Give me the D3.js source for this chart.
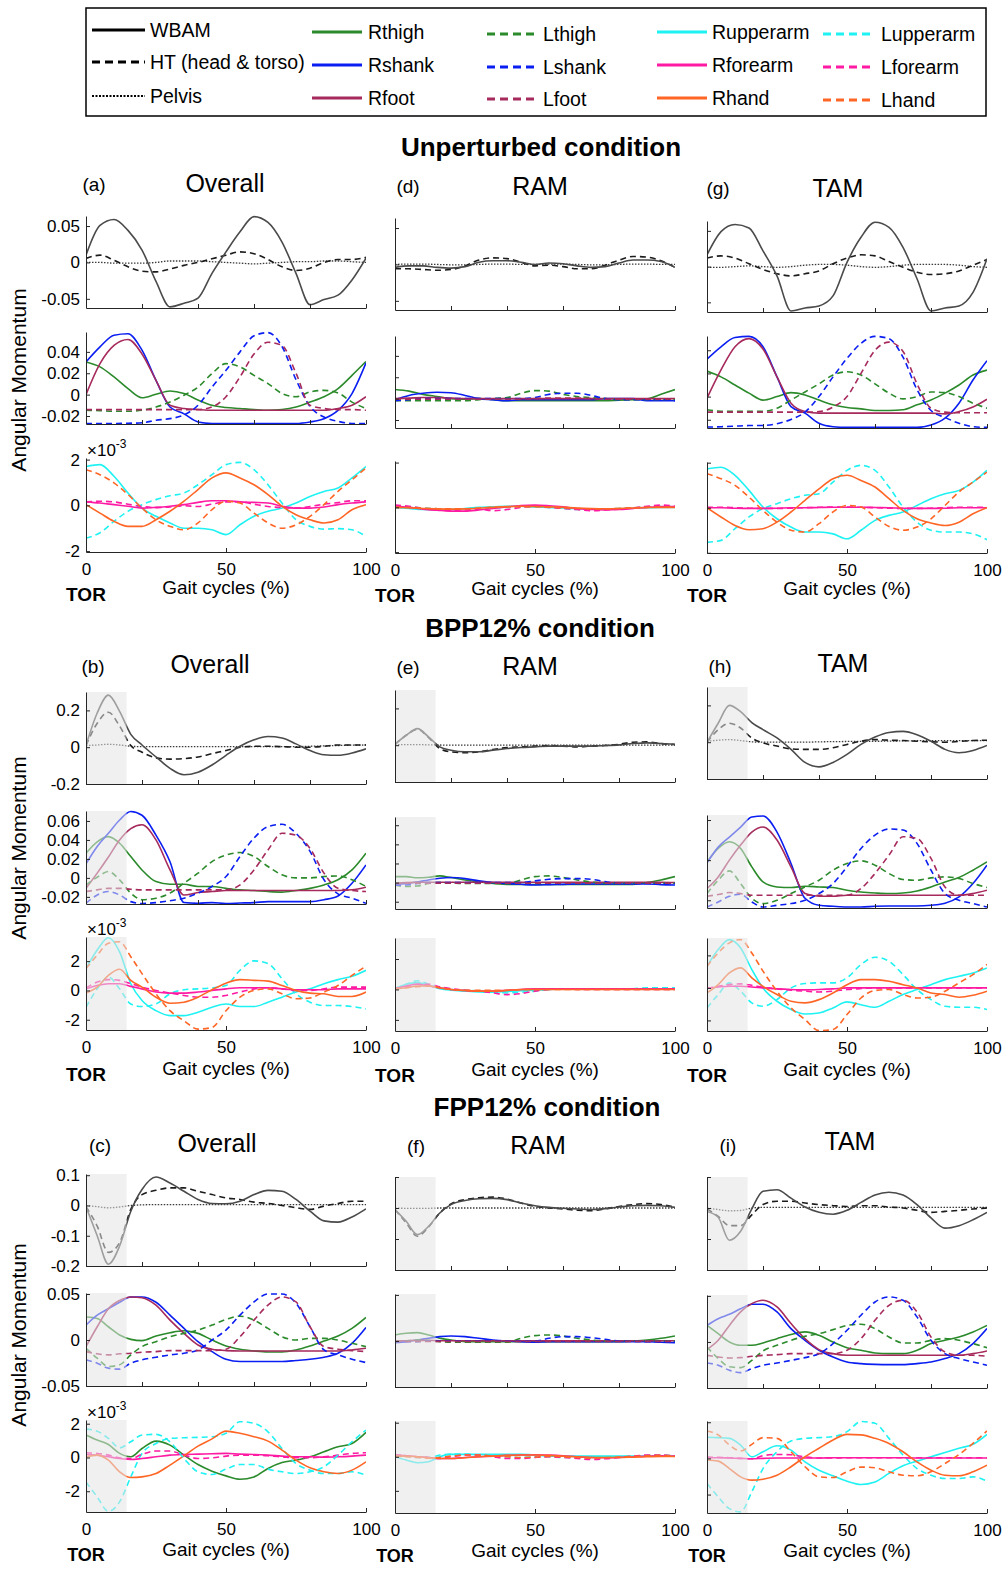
<!DOCTYPE html>
<html>
<head>
<meta charset="utf-8">
<script src="https://cdn.jsdelivr.net/npm/d3@7/dist/d3.min.js"></script>
<style>
  body { margin: 0; background: #fff; }
  svg text { font-family: "Liberation Sans", Arial, Helvetica, sans-serif; fill: #000; }
</style>
</head>
<body>
<div id="chart"></div>
<script>
// gait cycle sample points (%)
const gaitX = [0,5,10,15,20,25,30,35,40,45,50,55,60,65,70,75,80,85,90,95,100];
const gaitXPert = [0,4,8,12,16,20,25,30,35,40,45,50,55,60,65,70,75,80,85,90,95,100];

// ---------- Unperturbed ----------
const aBody = {
  WBAM: [0.010,0.051,0.059,0.044,0.017,-0.026,-0.061,-0.056,-0.049,-0.015,0.0145,0.042,0.063,0.055,0.028,-0.015,-0.058,-0.051,-0.045,-0.024,0.006],
  HT: [0.0055,0.010,0.003,-0.006,-0.012,-0.013,-0.009,-0.004,0.0,0.005,0.010,0.0145,0.012,0.004,-0.006,-0.011,-0.008,0.0,0.004,0.004,0.007],
  Pelvis: [0.0,0.0,-0.001,-0.001,-0.001,0.0,0.002,0.002,0.002,0.001,0.0,-0.001,-0.002,-0.001,0.0,0.001,0.001,0.002,0.002,0.001,0.0]
};
const aLegs = {
  Rthigh: [0.0306,0.026,0.0166,0.0056,-0.003,0.0003,0.0034,0.001,-0.005,-0.010,-0.012,-0.013,-0.014,-0.0147,-0.014,-0.0116,-0.007,-0.002,0.0056,0.018,0.031],
  Lthigh: [-0.0147,-0.015,-0.0156,-0.0156,-0.0147,-0.0116,-0.007,-0.0006,0.007,0.0197,0.029,0.026,0.018,0.0103,0.001,-0.002,0.0025,0.004,0.0016,-0.007,-0.013],
  Rshank: [0.0306,0.0447,0.0556,0.057,0.0416,0.0134,-0.0116,-0.018,-0.0256,-0.027,-0.027,-0.027,-0.027,-0.027,-0.027,-0.027,-0.0256,-0.0225,-0.0147,0.001,0.0297],
  Lshank: [-0.027,-0.027,-0.027,-0.0268,-0.0264,-0.024,-0.0225,-0.019,-0.010,0.007,0.0228,0.040,0.055,0.058,0.045,0.014,-0.011,-0.021,-0.025,-0.027,-0.027],
  Rfoot: [0.0,0.029,0.046,0.0516,0.038,0.0134,-0.010,-0.013,-0.014,-0.0147,-0.0147,-0.0147,-0.0147,-0.0147,-0.0147,-0.0147,-0.0147,-0.0147,-0.013,-0.010,-0.002],
  Lfoot: [-0.014,-0.014,-0.014,-0.014,-0.014,-0.014,-0.014,-0.014,-0.014,-0.0116,-0.002,0.0166,0.038,0.049,0.046,0.020,-0.010,-0.013,-0.014,-0.014,-0.0147]
};
const aArms = {
  Rupperarm: [1.7,1.78,1.27,0.54,-0.12,-0.48,-0.77,-1.0,-1.0,-1.07,-1.28,-0.85,-0.48,-0.26,-0.12,0.1,0.39,0.61,0.76,1.2,1.7],
  Lupperarm: [-1.43,-1.2,-0.7,-0.26,0.03,0.25,0.42,0.54,0.9,1.34,1.78,1.88,1.56,0.9,0.1,-0.63,-0.92,-1.04,-1.02,-1.07,-1.36],
  Rforearm: [0.15,0.1,0.03,-0.04,-0.12,-0.09,-0.04,0.03,0.13,0.2,0.2,0.15,0.13,0.1,-0.04,-0.12,-0.12,-0.07,0.03,0.1,0.15],
  Lforearm: [0.15,0.18,0.15,0.05,-0.05,-0.1,-0.07,-0.02,-0.05,0.05,0.15,0.15,0.05,-0.05,-0.1,-0.12,-0.05,0.05,0.12,0.2,0.2],
  Rhand: [0.03,-0.34,-0.7,-0.92,-0.92,-0.63,-0.26,0.18,0.69,1.2,1.42,1.2,0.9,0.47,-0.04,-0.41,-0.63,-0.77,-0.63,-0.19,0.03],
  Lhand: [1.56,1.34,0.98,0.47,-0.12,-0.63,-0.92,-1.07,-0.77,-0.19,0.18,0.1,-0.34,-0.77,-1.0,-0.85,-0.48,0.03,0.61,1.12,1.63]
};
const dBody = {
  WBAM: [-0.004,-0.002,-0.002,-0.004,-0.005,-0.003,0.003,0.005,0.005,0.003,0.0,0.002,0.001,-0.002,-0.004,-0.003,0.002,0.006,0.006,0.004,-0.004],
  HT: [-0.006,-0.006,-0.007,-0.008,-0.007,-0.002,0.006,0.009,0.008,0.003,-0.002,-0.001,-0.003,-0.006,-0.006,-0.001,0.006,0.011,0.010,0.005,-0.004],
  Pelvis: [0.0,0.0005,0.0005,0.0,-0.0005,-0.0005,0.0,0.0005,0.0005,0.0,0.0,0.0005,0.0005,0.0,-0.0005,-0.0005,0.0,0.0005,0.0005,0.0,0.0]
};
const dLegs = {
  Rthigh: [0.0085,0.007,0.004,0.002,0.0,-0.0005,0.0,-0.001,-0.002,-0.002,-0.002,-0.002,-0.002,-0.002,-0.002,-0.002,-0.0015,-0.001,-0.0003,0.004,0.0085],
  Lthigh: [-0.002,-0.002,-0.002,-0.002,-0.002,-0.002,-0.001,0.0,0.001,0.005,0.0075,0.007,0.004,0.002,0.001,0.0,-0.001,-0.001,-0.001,-0.001,-0.001],
  Rshank: [-0.001,0.003,0.005,0.006,0.0055,0.003,0.0,-0.001,-0.002,-0.001,-0.001,-0.001,-0.001,-0.001,-0.001,0.0,0.0,0.0,-0.002,-0.002,-0.002],
  Lshank: [-0.002,-0.001,0.0,0.0,0.0,0.0,0.0,0.0,0.0,0.0,0.001,0.004,0.005,0.005,0.003,0.0,-0.001,-0.001,-0.001,-0.001,-0.002],
  Rfoot: [0.0,0.0005,0.001,0.001,0.0005,0.0,0.0,0.0,0.0,0.0,0.0,0.0,0.0,0.0,0.0,0.0,0.0,0.0,0.0,0.0,0.0],
  Lfoot: [-0.0005,-0.0005,-0.0005,-0.0005,-0.0005,-0.0005,-0.0005,-0.0005,-0.0005,-0.0005,0.0,0.0005,0.0005,0.0005,0.0,-0.0005,-0.0005,-0.0005,-0.0005,-0.0005,-0.0005]
};
const dArms = {
  Rupperarm: [0.0,-0.05,-0.1,-0.12,-0.1,-0.05,0.0,0.02,0.05,0.05,0.02,0.0,-0.03,-0.06,-0.08,-0.08,-0.06,-0.04,-0.02,0.0,0.0],
  Lupperarm: [0.05,0.02,-0.03,-0.06,-0.08,-0.08,-0.06,-0.03,0.0,0.03,0.02,0.0,-0.05,-0.1,-0.1,-0.08,-0.05,-0.02,0.02,0.05,0.03],
  Rforearm: [0.05,0.0,-0.08,-0.13,-0.17,-0.17,-0.12,-0.05,0.02,0.08,0.1,0.07,0.02,-0.05,-0.1,-0.12,-0.1,-0.05,0.0,0.03,0.03],
  Lforearm: [0.1,0.05,-0.05,-0.12,-0.15,-0.12,-0.08,-0.15,-0.1,0.0,0.05,0.0,-0.05,-0.1,-0.15,-0.12,-0.08,-0.03,0.05,0.1,0.05],
  Rhand: [0.0,-0.02,-0.05,-0.07,-0.08,-0.07,-0.04,0.0,0.03,0.05,0.04,0.02,0.0,-0.03,-0.05,-0.06,-0.05,-0.03,-0.01,0.0,0.0],
  Lhand: [0.0,-0.01,-0.04,-0.06,-0.07,-0.06,-0.03,0.0,0.02,0.03,0.03,0.01,-0.02,-0.05,-0.07,-0.07,-0.05,-0.02,0.0,0.01,0.01]
};
const gBody = {
  WBAM: [0.0165,0.049,0.059,0.054,0.022,-0.013,-0.062,-0.058,-0.055,-0.041,0.006,0.041,0.062,0.055,0.027,-0.017,-0.062,-0.058,-0.055,-0.036,0.011],
  HT: [0.012,0.015,0.012,0.004,-0.004,-0.010,-0.013,-0.010,-0.006,0.004,0.012,0.0165,0.015,0.007,-0.001,-0.008,-0.011,-0.010,-0.006,0.002,0.010],
  Pelvis: [-0.001,-0.001,0.0,0.001,0.0,-0.001,0.0,0.002,0.003,0.003,0.002,0.0,-0.001,0.0,0.002,0.003,0.003,0.003,0.002,0.0,-0.001]
};
const gLegs = {
  Rthigh: [0.022,0.017,0.010,0.003,-0.003,0.0,0.0034,0.0014,-0.003,-0.007,-0.0094,-0.0106,-0.012,-0.012,-0.0114,-0.0071,-0.0029,0.003,0.010,0.0186,0.0229],
  Lthigh: [-0.0114,-0.0126,-0.0126,-0.0126,-0.0126,-0.010,-0.003,0.004,0.011,0.0186,0.0214,0.0186,0.011,0.003,-0.002,0.0,0.004,0.0034,0.0,-0.0057,-0.010],
  Rshank: [0.0323,0.043,0.051,0.052,0.043,0.017,-0.0086,-0.0143,-0.023,-0.026,-0.0266,-0.0266,-0.0266,-0.0266,-0.0266,-0.0266,-0.0246,-0.0186,-0.0057,0.0143,0.031],
  Lshank: [-0.0263,-0.026,-0.0255,-0.025,-0.0249,-0.0234,-0.0197,-0.0134,0.0,0.017,0.033,0.046,0.052,0.050,0.034,0.006,-0.012,-0.018,-0.023,-0.026,-0.0266],
  Rfoot: [-0.0014,0.023,0.043,0.050,0.041,0.017,-0.0057,-0.0129,-0.0143,-0.0143,-0.0143,-0.0143,-0.0143,-0.0143,-0.0143,-0.0143,-0.0143,-0.0149,-0.0129,-0.009,-0.0023],
  Lfoot: [-0.0134,-0.0134,-0.0134,-0.0134,-0.0134,-0.0134,-0.0134,-0.0134,-0.013,-0.009,0.0,0.020,0.040,0.047,0.039,0.011,-0.010,-0.0134,-0.014,-0.014,-0.014]
};
const gArms = {
  Rupperarm: [1.73,1.8,1.44,0.77,0.03,-0.49,-0.86,-1.08,-1.08,-1.16,-1.38,-1.0,-0.56,-0.34,-0.19,0.1,0.4,0.62,0.77,1.14,1.66],
  Lupperarm: [-1.53,-1.45,-0.93,-0.41,-0.04,0.18,0.4,0.55,0.62,1.14,1.66,1.88,1.66,0.92,0.03,-0.64,-1.0,-1.08,-1.08,-1.16,-1.42],
  Rforearm: [0.0,0.0,-0.02,-0.03,-0.03,-0.02,0.0,0.0,0.01,0.02,0.02,0.02,0.01,0.0,-0.02,-0.03,-0.03,-0.02,0.0,0.0,0.0],
  Lforearm: [0.02,0.02,0.0,-0.02,-0.03,-0.03,-0.02,0.0,0.02,0.03,0.03,0.02,0.0,-0.02,-0.03,-0.03,-0.02,0.0,0.02,0.02,0.02],
  Rhand: [0.0,-0.41,-0.79,-0.98,-0.93,-0.64,-0.19,0.33,0.84,1.29,1.44,1.21,0.92,0.4,-0.12,-0.49,-0.68,-0.79,-0.64,-0.27,0.0],
  Lhand: [1.51,1.29,0.99,0.47,-0.12,-0.64,-1.0,-1.08,-0.71,-0.19,0.1,0.03,-0.41,-0.83,-1.0,-0.86,-0.49,0.1,0.7,1.14,1.58]
};

// ---------- BPP12% ----------
const bBody = {
  WBAM: [0.01,0.186,0.283,0.195,0.07,0.012,-0.053,-0.115,-0.15,-0.136,-0.097,-0.044,0.005,0.04,0.058,0.05,0.018,-0.018,-0.041,-0.044,-0.032,-0.009],
  HT: [0.009,0.13,0.19,0.115,0.009,-0.027,-0.058,-0.065,-0.062,-0.053,-0.035,-0.018,0.0,0.005,0.005,0.003,0.0,0.0,0.005,0.012,0.012,0.012],
  Pelvis: [0.009,0.012,0.016,0.012,0.005,0.003,0.003,0.003,0.003,0.003,0.003,0.003,0.003,0.003,0.003,0.003,0.003,0.005,0.007,0.009,0.011,0.012]
};
const bLegs = {
  Rthigh: [0.026,0.038,0.0435,0.0365,0.0225,0.0084,-0.0039,-0.0067,-0.0067,-0.009,-0.009,-0.011,-0.0126,-0.0133,-0.0144,-0.015,-0.0133,-0.011,-0.0074,-0.002,0.0084,0.026],
  Lthigh: [-0.0074,0.0007,0.0067,-0.002,-0.016,-0.023,-0.0214,-0.016,-0.0056,0.005,0.0172,0.024,0.0267,0.0225,0.012,0.0032,0.0,0.0,0.0014,0.002,-0.002,-0.009],
  Rshank: [0.0147,0.033,0.047,0.061,0.07,0.066,0.045,0.017,-0.026,-0.0267,-0.026,-0.027,-0.0265,-0.026,-0.025,-0.025,-0.025,-0.025,-0.023,-0.019,-0.0056,0.0137],
  Lshank: [-0.0267,-0.018,-0.0144,-0.018,-0.025,-0.027,-0.026,-0.024,-0.0214,-0.016,-0.009,0.0014,0.0225,0.042,0.054,0.0565,0.047,0.028,-0.002,-0.0168,-0.0214,-0.0267],
  Rfoot: [-0.011,0.005,0.022,0.04,0.052,0.056,0.04,0.0084,-0.018,-0.0154,-0.0144,-0.0133,-0.0133,-0.0133,-0.0133,-0.0133,-0.0133,-0.0133,-0.0133,-0.0133,-0.0125,-0.0098],
  Lfoot: [-0.0144,-0.0126,-0.011,-0.011,-0.012,-0.0126,-0.0126,-0.0126,-0.0126,-0.0126,-0.0126,-0.0126,-0.0074,0.0084,0.0295,0.047,0.045,0.031,0.005,-0.011,-0.0133,-0.0144]
};
const bArms = {
  Rupperarm: [1.49,2.76,3.6,2.64,0.46,-0.69,-1.38,-1.72,-1.72,-1.49,-1.15,-0.92,-1.1,-1.1,-0.8,-0.46,-0.11,0.11,0.46,0.74,0.97,1.38],
  Lupperarm: [-1.15,0.11,0.92,0.11,-0.92,-1.1,-0.92,-0.23,0.05,0.11,0.18,0.34,1.38,2.02,1.84,0.8,-0.23,-0.8,-1.03,-1.03,-1.1,-1.26],
  Rforearm: [0.11,0.34,0.46,0.46,0.28,0.11,-0.11,-0.18,-0.18,-0.11,0.0,0.11,0.18,0.18,0.18,0.11,0.05,0.05,0.05,0.11,0.11,0.11],
  Lforearm: [0.18,0.57,0.74,0.69,0.46,0.23,0.0,-0.18,-0.34,-0.46,-0.46,-0.34,-0.11,0.11,0.18,0.11,0.0,0.0,0.11,0.23,0.23,0.23],
  Rhand: [-0.18,0.23,1.03,1.45,0.69,0.23,-0.46,-0.87,-0.8,-0.46,0.05,0.5,0.74,0.69,0.64,0.34,0.0,-0.18,-0.23,-0.41,-0.41,-0.11],
  Lhand: [1.49,2.41,3.22,3.33,2.3,1.15,-0.23,-1.38,-2.07,-2.64,-2.53,-1.38,-0.46,0.0,0.11,-0.23,-0.57,-0.51,-0.11,0.34,1.03,1.66]
};
const eBody = {
  WBAM: [0.005,0.054,0.09,0.045,-0.009,-0.027,-0.036,-0.036,-0.027,-0.018,-0.0125,-0.009,-0.005,-0.005,-0.005,-0.005,-0.002,0.002,0.009,0.0125,0.009,0.004],
  HT: [0.005,0.054,0.086,0.041,-0.018,-0.036,-0.041,-0.036,-0.023,-0.013,-0.009,-0.005,-0.002,-0.005,-0.009,-0.005,-0.002,0.005,0.016,0.018,0.009,0.004],
  Pelvis: [0.002,0.003,0.003,0.002,0.001,0.0,0.0,0.0,0.0,0.0,0.0,0.0,0.0,0.0,0.0,0.0,0.0,0.0,0.0,0.0,0.0,0.0]
};
const eLegs = {
  Rthigh: [0.0063,0.0063,0.005,0.0056,0.007,0.0053,0.0028,0.0007,-0.001,-0.0018,-0.002,-0.002,-0.002,-0.002,-0.0018,-0.0018,-0.0018,-0.0018,-0.0018,0.0,0.0028,0.0063],
  Lthigh: [-0.0028,-0.004,-0.0035,-0.001,0.0,-0.0004,-0.001,-0.001,-0.001,-0.001,0.0028,0.0063,0.007,0.0053,0.0028,0.0007,-0.0007,-0.0007,-0.0007,-0.0007,-0.0007,-0.0007],
  Rshank: [-0.0018,-0.001,0.0007,0.0028,0.0046,0.0053,0.0042,0.0018,0.0,-0.001,-0.0018,-0.0025,-0.0021,-0.0018,-0.0014,-0.0014,-0.0014,-0.0014,-0.0014,-0.0014,-0.0021,-0.0025],
  Lshank: [-0.0028,-0.0025,-0.001,0.0,0.0,0.0,0.0,0.0,0.0,0.0,0.0,0.0018,0.0035,0.0042,0.0042,0.0035,0.001,-0.0007,-0.001,-0.001,-0.001,-0.001],
  Rfoot: [-0.0007,0.0,0.0003,0.0003,0.0003,0.0003,0.0003,0.0003,0.0003,0.0003,0.0003,0.0003,0.0003,0.0003,0.0003,0.0003,0.0003,0.0003,0.0003,0.0003,0.0003,0.0],
  Lfoot: [-0.001,-0.0007,-0.0005,-0.0005,-0.0005,-0.0005,-0.0005,-0.0005,-0.0005,-0.0005,-0.0005,-0.0005,-0.0005,-0.0005,-0.0005,-0.0005,-0.0005,-0.0005,-0.0005,-0.0005,-0.0005,-0.0005]
};
const eArms = {
  Rupperarm: [0.05,0.34,0.45,0.27,0.05,-0.05,-0.11,-0.16,-0.18,-0.14,-0.09,-0.05,0.0,0.05,0.05,0.05,0.05,0.05,0.05,0.05,0.05,0.05],
  Lupperarm: [0.05,0.34,0.57,0.34,0.11,0.0,-0.05,-0.11,-0.18,-0.23,-0.18,-0.11,0.0,0.05,0.05,0.05,0.05,0.05,0.05,0.11,0.11,0.11],
  Rforearm: [0.05,0.23,0.34,0.23,0.11,0.0,-0.07,-0.11,-0.11,-0.05,0.0,0.05,0.05,0.05,0.05,0.05,0.05,0.05,0.05,0.05,0.05,0.05],
  Lforearm: [0.05,0.18,0.34,0.34,0.18,0.05,-0.05,-0.11,-0.23,-0.34,-0.27,-0.11,0.0,0.05,0.0,0.0,0.0,0.0,0.0,0.0,0.0,0.0],
  Rhand: [0.05,0.11,0.23,0.23,0.11,0.0,-0.07,-0.11,-0.11,-0.07,0.0,0.0,0.0,0.0,0.0,0.0,0.0,0.0,0.0,0.0,0.0,0.0],
  Lhand: [0.05,0.11,0.18,0.23,0.11,0.0,-0.05,-0.05,-0.05,-0.05,-0.02,0.0,0.0,0.0,0.0,0.0,0.0,0.0,0.0,0.0,0.0,0.0]
};
const hBody = {
  WBAM: [0.0,0.103,0.2,0.166,0.107,0.068,0.023,-0.039,-0.11,-0.134,-0.11,-0.066,-0.012,0.028,0.053,0.059,0.041,0.005,-0.039,-0.057,-0.045,-0.018],
  HT: [0.0,0.068,0.103,0.077,0.023,-0.004,-0.021,-0.036,-0.039,-0.039,-0.03,-0.012,0.005,0.014,0.011,0.009,0.005,0.002,0.0,0.004,0.009,0.011],
  Pelvis: [0.005,0.011,0.014,0.009,0.002,0.0,0.0,0.0,0.0,0.002,0.003,0.004,0.005,0.005,0.006,0.007,0.008,0.009,0.009,0.009,0.009,0.009]
};
const hLegs = {
  Rthigh: [0.0183,0.0317,0.0383,0.0317,0.0133,-0.0017,-0.0067,-0.0073,-0.006,-0.0067,-0.0073,-0.01,-0.0117,-0.0127,-0.0133,-0.0127,-0.0107,-0.0067,-0.0017,0.0027,0.01,0.0183],
  Lthigh: [-0.0133,0.0,0.0093,-0.0033,-0.018,-0.0233,-0.02,-0.0133,-0.0067,0.0,0.01,0.0167,0.0193,0.015,0.0067,0.0007,0.0,0.0023,0.0033,0.0017,-0.0033,-0.0073],
  Rshank: [0.0173,0.033,0.043,0.053,0.063,0.064,0.048,0.0167,-0.018,-0.025,-0.026,-0.0267,-0.0267,-0.026,-0.0257,-0.0257,-0.0257,-0.025,-0.023,-0.0167,-0.0033,0.015],
  Lshank: [-0.0267,-0.0217,-0.016,-0.014,-0.0217,-0.0267,-0.025,-0.0233,-0.02,-0.0133,-0.0033,0.0133,0.0317,0.045,0.051,0.05,0.0367,0.01,-0.0133,-0.02,-0.0233,-0.0267],
  Rfoot: [-0.0083,0.0033,0.02,0.035,0.048,0.053,0.04,0.0133,-0.0133,-0.016,-0.016,-0.015,-0.015,-0.015,-0.015,-0.015,-0.015,-0.015,-0.015,-0.015,-0.0133,-0.01],
  Lfoot: [-0.016,-0.0143,-0.0123,-0.0133,-0.015,-0.015,-0.015,-0.015,-0.015,-0.015,-0.015,-0.015,-0.0083,0.0067,0.025,0.0433,0.0417,0.0217,-0.0067,-0.015,-0.015,-0.015]
};
const hArms = {
  Rupperarm: [1.33,2.36,2.97,2.46,1.13,0.0,-0.82,-1.33,-1.6,-1.54,-1.23,-0.86,-1.03,-1.19,-0.82,-0.41,-0.1,0.2,0.51,0.72,0.92,1.23],
  Lupperarm: [-1.23,-0.41,0.31,-0.2,-0.92,-1.13,-0.72,0.0,0.27,0.31,0.31,0.62,1.44,1.89,1.64,0.82,-0.1,-0.72,-1.13,-1.19,-1.19,-1.33],
  Rforearm: [0.0,0.06,0.1,0.1,0.06,0.0,-0.06,-0.1,-0.12,-0.1,-0.06,0.0,0.0,0.0,0.0,0.0,0.0,0.0,0.0,0.0,0.0,0.0],
  Lforearm: [-0.04,0.1,0.2,0.25,0.16,0.04,-0.06,-0.14,-0.2,-0.25,-0.2,-0.1,-0.04,0.0,0.0,0.0,0.0,0.0,0.0,0.0,0.0,0.0],
  Rhand: [-0.31,0.2,0.92,1.23,0.62,0.1,-0.41,-0.82,-0.92,-0.72,-0.31,0.2,0.51,0.51,0.41,0.2,0.0,-0.31,-0.41,-0.57,-0.45,-0.2],
  Lhand: [1.33,2.15,2.77,2.97,2.15,1.03,-0.2,-1.23,-1.95,-2.63,-2.56,-1.64,-0.62,-0.16,-0.1,-0.41,-0.62,-0.57,-0.2,0.31,0.82,1.44]
};

// ---------- FPP12% ----------
const cBody = {
  WBAM: [-0.004,-0.1,-0.194,-0.134,-0.019,0.053,0.094,0.074,0.047,0.02,0.0066,0.0055,0.014,0.036,0.05,0.047,0.02,-0.0186,-0.051,-0.055,-0.038,-0.011],
  HT: [-0.004,-0.068,-0.155,-0.123,-0.013,0.036,0.05,0.058,0.058,0.047,0.036,0.025,0.02,0.011,0.0066,0.0,-0.0077,-0.013,-0.002,0.0066,0.014,0.014],
  Pelvis: [0.0,-0.004,-0.0077,-0.005,0.0,0.002,0.003,0.003,0.003,0.003,0.003,0.003,0.003,0.003,0.003,0.003,0.003,0.003,0.003,0.003,0.003,0.003]
};
const cLegs = {
  Rthigh: [0.025,0.0234,0.0144,0.0054,0.0007,-0.0007,0.0043,0.0079,0.01,0.0072,0.0,-0.0065,-0.01,-0.0119,-0.013,-0.013,-0.0108,-0.0065,-0.0011,0.0043,0.0126,0.0245],
  Lthigh: [-0.009,-0.0198,-0.0288,-0.027,-0.0162,-0.0072,-0.0018,0.0036,0.0072,0.0108,0.0162,0.0223,0.0259,0.0216,0.0126,0.0036,0.0,0.0018,0.0018,0.0,-0.0036,-0.0072],
  Rshank: [0.0162,0.027,0.034,0.041,0.0468,0.0468,0.041,0.027,0.0126,-0.0018,-0.0126,-0.021,-0.0234,-0.0234,-0.0234,-0.0234,-0.0223,-0.021,-0.0187,-0.0144,-0.0036,0.0137],
  Lshank: [-0.0216,-0.0252,-0.0306,-0.0317,-0.0252,-0.0216,-0.0187,-0.0162,-0.0144,-0.0108,0.0,0.0108,0.027,0.0414,0.05,0.05,0.04,0.0144,-0.0108,-0.0162,-0.0209,-0.0245],
  Rfoot: [-0.0072,0.0144,0.034,0.043,0.0468,0.046,0.0378,0.0216,0.0072,-0.0054,-0.01,-0.0115,-0.0119,-0.0119,-0.0119,-0.0119,-0.0119,-0.0119,-0.0119,-0.0119,-0.0108,-0.009],
  Lfoot: [-0.0126,-0.015,-0.0162,-0.015,-0.0144,-0.0133,-0.0126,-0.0115,-0.0115,-0.0115,-0.0115,-0.01,0.0036,0.0216,0.038,0.0468,0.0414,0.0144,-0.0072,-0.01,-0.0115,-0.0126]
};
const cArms = {
  Rupperarm: [1.33,1.03,0.77,0.24,0.04,0.53,0.97,0.73,0.14,-0.42,-0.81,-1.09,-1.29,-1.15,-0.65,-0.3,-0.16,0.04,0.34,0.63,0.83,1.49],
  Lupperarm: [-1.45,-2.34,-3.19,-2.63,-1.15,0.24,0.83,1.13,1.17,1.19,1.23,1.43,2.12,2.02,1.52,0.53,-0.36,-0.75,-0.95,-0.95,-0.85,-1.05],
  Rforearm: [0.18,0.14,0.04,-0.06,-0.12,-0.06,0.04,0.14,0.18,0.2,0.22,0.24,0.2,0.18,0.14,0.08,0.04,0.04,0.02,0.04,0.08,0.14],
  Lforearm: [0.28,0.24,0.14,-0.02,-0.06,0.18,0.38,0.38,0.14,-0.06,-0.02,0.08,0.14,0.14,0.1,0.04,-0.02,-0.02,0.04,0.14,0.24,0.28],
  Rhand: [0.04,0.14,-0.16,-0.85,-1.19,-1.15,-0.95,-0.45,0.1,0.67,1.1,1.56,1.43,1.23,0.97,0.44,-0.16,-0.61,-0.85,-0.95,-0.75,-0.26],
  Lhand: [1.68,1.56,1.13,0.57,0.93,1.33,1.37,0.93,-0.06,-0.85,-1.01,-0.69,-0.42,-0.42,-0.69,-0.85,-0.95,-0.85,-0.55,0.14,0.93,1.62]
};
const fBody = {
  WBAM: [-0.005,-0.043,-0.086,-0.059,-0.016,0.011,0.024,0.03,0.031,0.027,0.016,0.0075,0.002,-0.001,-0.003,-0.005,-0.002,0.003,0.0075,0.0086,0.0075,0.002],
  HT: [-0.005,-0.048,-0.091,-0.061,-0.016,0.013,0.027,0.033,0.035,0.029,0.016,0.005,0.0,-0.003,-0.0075,-0.0086,-0.003,0.005,0.011,0.014,0.011,0.003],
  Pelvis: [0.0,-0.001,-0.001,-0.001,0.0,0.0,0.0,0.0,0.0,0.0,0.0,0.0,0.0,0.0,0.0,0.0,0.0,0.0,0.0,0.0,0.0,0.0]
};
const fLegs = {
  Rthigh: [0.0065,0.0083,0.009,0.0065,0.0029,0.0011,-0.0007,-0.0007,-0.0007,-0.0007,-0.0007,-0.0007,-0.0007,-0.0007,-0.0007,-0.0007,-0.0007,-0.0007,0.0,0.0011,0.0029,0.0054],
  Lthigh: [-0.0007,0.0,0.0011,0.0004,-0.0007,-0.0014,-0.0014,-0.0014,-0.0014,-0.0014,0.0029,0.0058,0.0065,0.0054,0.0029,0.0011,0.0,0.0,0.0,0.0,0.0,0.0],
  Rshank: [-0.0018,-0.0007,0.0011,0.0029,0.0047,0.0054,0.0047,0.0029,0.0011,0.0,-0.0007,-0.0014,-0.0007,-0.0007,-0.0007,-0.0007,-0.0007,-0.0007,-0.0007,-0.0007,-0.0014,-0.0018],
  Lshank: [-0.0014,-0.0007,-0.0007,0.0,0.0,0.0,0.0,0.0,0.0,0.0,0.0,0.0,0.0029,0.0047,0.0047,0.0036,0.0018,0.0,-0.0004,-0.0007,-0.0007,-0.0007],
  Rfoot: [0.0,0.0003,0.0006,0.0006,0.0003,0.0003,0.0003,0.0003,0.0003,0.0003,0.0003,0.0003,0.0003,0.0003,0.0003,0.0003,0.0003,0.0003,0.0003,0.0003,0.0003,0.0003],
  Lfoot: [-0.0005,-0.0005,-0.0005,-0.0005,-0.0005,-0.0005,-0.0005,-0.0005,-0.0005,-0.0005,-0.0005,-0.0005,-0.0005,-0.0005,-0.0005,-0.0005,-0.0005,-0.0005,-0.0005,-0.0005,-0.0005,-0.0005]
};
const fArms = {
  Rupperarm: [0.0,-0.19,-0.35,-0.29,0.0,0.14,0.14,0.14,0.14,0.14,0.14,0.1,0.04,0.04,0.04,0.04,0.04,0.04,0.04,0.04,0.04,0.04],
  Lupperarm: [0.1,0.04,-0.04,-0.04,0.1,0.16,0.16,0.1,0.04,0.0,-0.04,0.0,0.0,-0.04,-0.04,-0.04,-0.04,0.0,0.04,0.08,0.1,0.04],
  Rforearm: [0.1,0.06,0.0,-0.04,-0.1,-0.1,-0.04,0.0,0.04,0.08,0.1,0.12,0.1,0.06,0.0,-0.04,-0.06,-0.04,0.0,0.04,0.06,0.04],
  Lforearm: [0.1,0.06,0.0,-0.04,-0.1,0.0,0.1,0.1,0.0,-0.1,-0.1,-0.04,0.0,-0.04,-0.1,-0.16,-0.12,-0.04,0.04,0.1,0.1,0.04],
  Rhand: [0.04,0.04,0.0,-0.06,-0.1,-0.1,-0.06,0.0,0.04,0.08,0.1,0.1,0.08,0.04,0.0,-0.04,-0.04,-0.04,-0.02,0.0,0.02,0.02],
  Lhand: [0.04,0.0,-0.04,-0.08,-0.04,0.04,0.1,0.1,0.04,0.0,-0.04,-0.02,0.02,0.0,-0.04,-0.08,-0.06,-0.02,0.02,0.06,0.08,0.04]
};
const iBody = {
  WBAM: [-0.011,-0.03,-0.104,-0.075,-0.003,0.054,0.059,0.032,0.003,-0.014,-0.02,-0.0075,0.018,0.042,0.051,0.042,0.011,-0.032,-0.065,-0.057,-0.038,-0.014],
  HT: [-0.003,-0.027,-0.057,-0.057,-0.022,0.011,0.022,0.022,0.016,0.011,0.0075,0.005,0.0075,0.0075,0.003,0.0,-0.0075,-0.014,-0.011,-0.0075,-0.003,0.0],
  Pelvis: [0.0,-0.005,-0.009,-0.008,0.0,0.002,0.002,0.002,0.002,0.002,0.002,0.002,0.002,0.002,0.002,0.002,0.002,0.002,0.002,0.002,0.002,0.002]
};
const iLegs = {
  Rthigh: [0.018,0.009,0.0,-0.0036,-0.0036,-0.0011,0.0036,0.008,0.0109,0.0072,0.0,-0.0062,-0.009,-0.012,-0.0127,-0.0127,-0.009,-0.0018,0.0018,0.0054,0.0109,0.018],
  Lthigh: [-0.0054,-0.018,-0.027,-0.0279,-0.02,-0.0098,-0.0036,0.0018,0.0062,0.009,0.0134,0.018,0.0192,0.0145,0.0054,-0.0011,-0.0011,0.0018,0.0036,0.0018,-0.0018,-0.0062],
  Rshank: [0.018,0.0253,0.03,0.036,0.041,0.041,0.0326,0.0145,0.0018,-0.009,-0.0163,-0.0217,-0.0235,-0.0243,-0.0246,-0.0246,-0.0235,-0.0217,-0.018,-0.0127,-0.0018,0.0145],
  Lshank: [-0.0228,-0.0253,-0.0308,-0.0333,-0.029,-0.0253,-0.0228,-0.02,-0.017,-0.0127,-0.0018,0.0127,0.029,0.0434,0.0489,0.0453,0.0272,0.0018,-0.0127,-0.018,-0.0217,-0.0253],
  Rfoot: [-0.0083,0.0018,0.018,0.0326,0.0416,0.0453,0.038,0.02,0.0036,-0.0083,-0.0127,-0.0145,-0.0145,-0.0145,-0.0145,-0.0145,-0.0145,-0.0145,-0.0145,-0.0145,-0.0127,-0.0098],
  Lfoot: [-0.0145,-0.0163,-0.0174,-0.017,-0.0156,-0.0145,-0.0138,-0.0127,-0.0127,-0.0127,-0.0127,-0.009,0.0036,0.0235,0.0398,0.0453,0.0326,0.0054,-0.0109,-0.0145,-0.0145,-0.0156]
};
const iArms = {
  Rupperarm: [1.17,1.15,1.11,0.74,0.09,0.37,0.7,0.46,-0.19,-0.65,-0.96,-1.26,-1.44,-1.3,-0.83,-0.41,-0.15,0.09,0.33,0.56,0.78,1.33],
  Lupperarm: [-1.39,-2.13,-2.78,-2.96,-1.85,-0.56,0.37,0.96,1.11,1.15,1.2,1.48,2.04,1.94,1.11,0.19,-0.56,-0.93,-1.11,-1.11,-1.02,-1.26],
  Rforearm: [0.04,0.04,0.02,0.0,-0.02,0.0,0.02,0.02,0.02,0.02,0.04,0.04,0.04,0.04,0.04,0.04,0.02,0.02,0.02,0.02,0.02,0.02],
  Lforearm: [0.07,0.06,0.04,0.0,-0.02,0.15,0.22,0.2,0.08,0.02,0.02,0.04,0.04,0.04,0.04,0.04,0.04,0.04,0.04,0.04,0.04,0.04],
  Rhand: [-0.09,-0.15,-0.56,-1.02,-1.2,-1.15,-0.93,-0.46,0.09,0.56,1.02,1.33,1.3,1.11,0.83,0.37,-0.19,-0.65,-0.93,-0.96,-0.74,-0.37],
  Lhand: [1.52,1.3,0.74,0.41,0.78,1.15,1.11,0.37,-0.46,-1.02,-1.06,-0.74,-0.48,-0.52,-0.74,-0.93,-0.96,-0.74,-0.28,0.22,0.83,1.52]
};

// ---------- styles & layout ----------
const GREEN = "#2b8a2b", BLUE = "#0a1ef2", MAROON = "#a62a5c", CYAN = "#1ff2f2", PINK = "#ff1aa3", ORANGE = "#ff6626";
const seriesStyle = {
  WBAM: { color: "#4a4a4a", dash: null, w: 1.6 },
  HT: { color: "#1c1c1c", dash: "6,4", w: 1.6 },
  Pelvis: { color: "#3a3a3a", dash: "1.5,1.5", w: 1.3 },
  Rthigh: { color: GREEN, dash: null }, Lthigh: { color: GREEN, dash: "6,4" },
  Rshank: { color: BLUE, dash: null }, Lshank: { color: BLUE, dash: "6,4" },
  Rfoot: { color: MAROON, dash: null }, Lfoot: { color: MAROON, dash: "6,4" },
  Rupperarm: { color: CYAN, dash: null }, Lupperarm: { color: CYAN, dash: "6,4" },
  Rforearm: { color: PINK, dash: null }, Lforearm: { color: PINK, dash: "6,4" },
  Rhand: { color: ORANGE, dash: null }, Lhand: { color: ORANGE, dash: "6,4" }
};
const legendLabels = { HT: "HT (head & torso)" };
const rowKeys = [
  ["Pelvis", "HT", "WBAM"],
  ["Rthigh", "Rshank", "Rfoot", "Lthigh", "Lshank", "Lfoot"],
  ["Rupperarm", "Lupperarm", "Rforearm", "Lforearm", "Rhand", "Lhand"]
];

const colX = [[86, 366], [395, 675], [707, 987]];
const rowRects = [
  [[[216, 308], [332, 424], [458, 552]], [[218, 310], [336, 428], [461, 553]], [[221, 312], [336, 428], [462, 553]]],
  [[[692, 784], [811, 904], [937, 1030]], [[690, 782], [817, 909], [938, 1031]], [[687, 779], [815, 908], [938, 1031]]],
  [[[1174, 1266], [1293, 1386], [1420, 1512]], [[1177, 1270], [1294, 1387], [1421, 1513]], [[1177, 1270], [1295, 1388], [1421, 1513]]]
];
const sections = [
  { title: "Unperturbed condition", tx: 541, ty: 147, xs: gaitX, shadeTo: null,
    yTicks: [[-0.05, 0, 0.05], [-0.02, 0, 0.02, 0.04], [-2, 0, 2]], ylabY: 380, gaitDy: 35, torDy: 42 },
  { title: "BPP12% condition", tx: 540, ty: 628, xs: gaitXPert, shadeTo: 14.5,
    yTicks: [[-0.2, 0, 0.2], [-0.02, 0, 0.02, 0.04, 0.06], [-2, 0, 2]], ylabY: 848, gaitDy: 38, torDy: 44 },
  { title: "FPP12% condition", tx: 547, ty: 1107, xs: gaitXPert, shadeTo: 14.5,
    yTicks: [[-0.2, -0.1, 0, 0.1], [-0.05, 0, 0.05], [-2, 0, 2]], ylabY: 1335, gaitDy: 37, torDy: 43 }
];
const panels = [
  { sec: 0, col: 0, tag: "(a)", name: "Overall", tagXY: [94, 184], nameXY: [225, 183], rows: [aBody, aLegs, aArms],
    domains: [[-0.0626, 0.0638], [-0.0275, 0.0586], [-2.04, 2.07]] },
  { sec: 0, col: 1, tag: "(d)", name: "RAM", tagXY: [408, 186], nameXY: [540, 186], rows: [dBody, dLegs, dArms],
    domains: [[-0.0626, 0.0638], [-0.0275, 0.0586], [-2.04, 2.07]] },
  { sec: 0, col: 2, tag: "(g)", name: "TAM", tagXY: [718, 188], nameXY: [838, 188], rows: [gBody, gLegs, gArms],
    domains: [[-0.0635, 0.0638], [-0.0271, 0.0523], [-2.01, 2.03]] },
  { sec: 1, col: 0, tag: "(b)", name: "Overall", tagXY: [93, 666], nameXY: [210, 664], rows: [bBody, bLegs, bArms],
    domains: [[-0.2, 0.3], [-0.0275, 0.0705], [-2.7, 3.65]] },
  { sec: 1, col: 1, tag: "(e)", name: "RAM", tagXY: [408, 667], nameXY: [530, 666], rows: [eBody, eLegs, eArms],
    domains: [[-0.2, 0.3], [-0.0276, 0.0686], [-2.73, 3.38]] },
  { sec: 1, col: 2, tag: "(h)", name: "TAM", tagXY: [720, 666], nameXY: [843, 663], rows: [hBody, hLegs, hArms],
    domains: [[-0.2, 0.3], [-0.0277, 0.065], [-2.65, 3.07]] },
  { sec: 2, col: 0, tag: "(c)", name: "Overall", tagXY: [100, 1145], nameXY: [217, 1143], rows: [cBody, cLegs, cArms],
    domains: [[-0.2, 0.104], [-0.05, 0.0511], [-3.23, 2.22]], recolor: { Rupperarm: GREEN, Lhand: CYAN } },
  { sec: 2, col: 1, tag: "(f)", name: "RAM", tagXY: [416, 1146], nameXY: [538, 1145], rows: [fBody, fLegs, fArms],
    domains: [[-0.2, 0.1], [-0.05, 0.051], [-3.3, 2.1]] },
  { sec: 2, col: 2, tag: "(i)", name: "TAM", tagXY: [728, 1145], nameXY: [850, 1141], rows: [iBody, iLegs, iArms],
    domains: [[-0.2, 0.1], [-0.05, 0.051], [-3.02, 2.07]] }
];

const width = 1004, height = 1569;
const AXIS = "#262626";
const svg = d3.select("#chart").append("svg").attr("width", width).attr("height", height);
const defs = svg.append("defs");

// legend
const legendCols = [
  { keys: ["WBAM", "HT", "Pelvis"], lx: 92, len: 53, tx: 150, ys: [30, 62, 96] },
  { keys: ["Rthigh", "Rshank", "Rfoot"], lx: 312, len: 50, tx: 368, ys: [32, 65, 98] },
  { keys: ["Lthigh", "Lshank", "Lfoot"], lx: 487, len: 50, tx: 543, ys: [34, 67, 99] },
  { keys: ["Rupperarm", "Rforearm", "Rhand"], lx: 657, len: 50, tx: 712, ys: [32, 65, 98] },
  { keys: ["Lupperarm", "Lforearm", "Lhand"], lx: 823, len: 50, tx: 881, ys: [34, 67, 100] }
];
const legend = svg.append("g");
legend.append("rect").attr("x", 86).attr("y", 8).attr("width", 900).attr("height", 108)
  .attr("fill", "#fff").attr("stroke", "#000").attr("stroke-width", 1.5);
legendCols.forEach(c => {
  c.keys.forEach((k, i) => {
    const st = seriesStyle[k];
    const body = c.lx === 92;
    legend.append("line").attr("x1", c.lx).attr("x2", c.lx + c.len).attr("y1", c.ys[i]).attr("y2", c.ys[i])
      .attr("stroke", body ? "#000" : st.color).attr("stroke-width", k === "Pelvis" ? 2 : 3)
      .attr("stroke-dasharray", k === "Pelvis" ? "2,1.5" : (st.dash ? "8,5" : null));
    legend.append("text").attr("x", c.tx).attr("y", c.ys[i]).attr("dy", "0.35em")
      .attr("font-size", 19.5).text(legendLabels[k] || k);
  });
});

// section titles and y labels
sections.forEach(s => {
  svg.append("text").attr("x", s.tx).attr("y", s.ty).attr("dy", "0.35em").attr("text-anchor", "middle")
    .attr("font-size", 26).attr("font-weight", "bold").text(s.title);
  svg.append("text").attr("transform", `translate(19,${s.ylabY}) rotate(-90)`).attr("text-anchor", "middle")
    .attr("dy", "0.35em").attr("font-size", 21).text("Angular Momentum");
});

let clipN = 0;
panels.forEach(p => {
  const sec = sections[p.sec];
  const [x0, x1] = colX[p.col];
  const x = d3.scaleLinear().domain([0, 100]).range([x0, x1]);

  svg.append("text").attr("x", p.tagXY[0]).attr("y", p.tagXY[1]).attr("dy", "0.35em")
    .attr("text-anchor", "middle").attr("font-size", 19).text(p.tag);
  svg.append("text").attr("x", p.nameXY[0]).attr("y", p.nameXY[1]).attr("dy", "0.35em")
    .attr("text-anchor", "middle").attr("font-size", 25).text(p.name);

  p.rows.forEach((rowData, r) => {
    const [top, bottom] = rowRects[p.sec][p.col][r];
    const y = d3.scaleLinear().domain(p.domains[r]).range([bottom, top]);
    const g = svg.append("g");
    const id = "clip" + (clipN++);
    defs.append("clipPath").attr("id", id).append("rect")
      .attr("x", x0).attr("y", top - 1).attr("width", x1 - x0).attr("height", bottom - top + 1);

    const line = d3.line().x((d, i) => x(sec.xs[i])).y(d => y(d)).curve(d3.curveMonotoneX);
    const lines = g.append("g").attr("clip-path", `url(#${id})`);
    rowKeys[r].forEach(k => {
      const st = seriesStyle[k];
      const color = (p.recolor && p.recolor[k]) || st.color;
      lines.append("path").datum(rowData[k]).attr("d", line)
        .attr("fill", "none").attr("stroke", color).attr("stroke-width", st.w || 1.6)
        .attr("stroke-dasharray", st.dash);
    });

    if (sec.shadeTo) {
      g.append("rect").attr("x", x(0)).attr("y", top).attr("width", x(sec.shadeTo) - x(0)).attr("height", bottom - top)
        .attr("fill", "#e4e4e4").attr("fill-opacity", 0.55);
    }

    const yAxis = d3.axisLeft(y).tickValues(sec.yTicks[r]).tickSizeInner(-4).tickSizeOuter(0).tickPadding(6)
      .tickFormat(p.col === 0 ? d => String(d) : () => "");
    const ya = g.append("g").attr("transform", `translate(${x0},0)`).call(yAxis);
    const xAxis = d3.axisBottom(x).tickValues(r === 2 ? [0, 50, 100] : [0, 20, 40, 60, 80, 100])
      .tickSizeInner(-4).tickSizeOuter(0).tickPadding(11).tickFormat(r === 2 ? d => String(d) : () => "");
    const xa = g.append("g").attr("transform", `translate(0,${bottom})`).call(xAxis);
    [ya, xa].forEach(a => {
      a.attr("font-size", 17).attr("font-family", null);
      a.select(".domain").attr("stroke", AXIS);
      a.selectAll(".tick line").attr("stroke", AXIS);
      a.selectAll(".tick text").attr("fill", AXIS);
    });

    if (r === 2 && p.col === 0) {
      const t = svg.append("text").attr("x", x0 + 1).attr("y", top - 2).attr("font-size", 17).attr("fill", AXIS);
      t.append("tspan").text("\u00d710");
      t.append("tspan").attr("dy", -8).attr("font-size", 12).text("-3");
    }
    if (r === 2) {
      svg.append("text").attr("x", (x0 + x1) / 2).attr("y", bottom + sec.gaitDy).attr("dy", "0.35em")
        .attr("text-anchor", "middle").attr("font-size", 19).attr("fill", AXIS).text("Gait cycles (%)");
      svg.append("text").attr("x", x0).attr("y", bottom + sec.torDy).attr("dy", "0.35em")
        .attr("text-anchor", "middle").attr("font-size", p.sec === 2 ? 18 : 19).attr("font-weight", "bold").text("TOR");
    }
  });
});
</script>
</body>
</html>
